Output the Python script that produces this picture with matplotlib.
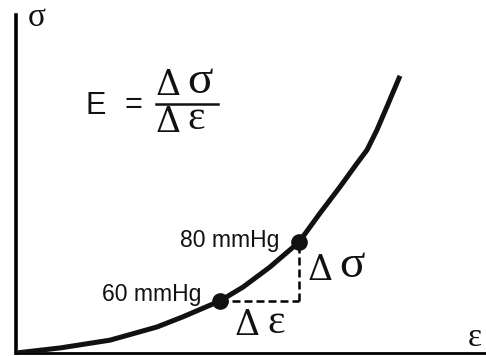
import matplotlib
matplotlib.use("Agg")
import numpy as np
from matplotlib import pyplot as plt

# stress-strain curve (arbitrary units)
strain = [0.0, 0.094, 0.200, 0.300, 0.355, 0.434, 0.483, 0.540, 0.602,
          0.647, 0.689, 0.726, 0.747, 0.768, 0.789, 0.817]
stress = [0.0, 0.015, 0.038, 0.077, 0.107, 0.154, 0.195, 0.254, 0.328,
          0.414, 0.491, 0.562, 0.601, 0.660, 0.728, 0.820]

# the two marked pressures
pt_strain = [0.434, 0.602]
pt_stress = [0.154, 0.328]
pt_labels = ['60 mmHg', '80 mmHg']

W, H = 486, 356
fig = plt.figure(figsize=(W / 100, H / 100), dpi=100)
ax = fig.add_axes([16 / W, 3 / H, 470 / W, 338 / H])
ax.set_xlim(0, 1)
ax.set_ylim(0, 1)
ax.set_xticks([])
ax.set_yticks([])
for s in ['top', 'right']:
    ax.spines[s].set_visible(False)
ax.spines['left'].set_linewidth(2.6)
ax.spines['bottom'].set_linewidth(2.0)
ax.patch.set_alpha(0)

ax.plot(strain, stress, color='#111111', lw=3.6, solid_capstyle='butt',
        solid_joinstyle='round', zorder=3)
ax.plot(pt_strain, pt_stress, 'o', color='#111111', ms=11, zorder=4)

# dashed triangle
ax.plot([pt_strain[0], pt_strain[1]], [pt_stress[0], pt_stress[0]], color='black', lw=1.8, dashes=(3.2, 1.6))
ax.plot([pt_strain[1], pt_strain[1]], [pt_stress[0], pt_stress[1]], color='black', lw=1.8, dashes=(3.2, 1.6))

sans = 'Liberation Sans'
serif = 'Liberation Serif'
delta_font = 'DejaVu Serif'


def txt(x, y, s, size, family, ha='center', va='center'):
    # place text by pixel position in the figure
    fig.text(x / W, 1 - y / H, s, fontsize=size, family=family, ha=ha, va=va,
             color='#111111')


# point labels
txt(279, 240, pt_labels[1], 16.5, sans, ha='right')
txt(201, 295, pt_labels[0], 16.5, sans, ha='right')

# axis labels
txt(37, 18, 'σ', 24, serif)
txt(475, 338, 'ε', 24, serif)

# modulus formula
txt(96, 106, 'E', 22, sans)
txt(133, 105, '=', 22, sans)
txt(168, 85, 'Δ', 25, delta_font)
txt(200, 82, 'σ', 34, serif)
fig.add_artist(plt.Line2D([156 / W, 218 / W], [1 - 104 / H, 1 - 104 / H], color='#111111', lw=1.8))
txt(168, 122, 'Δ', 25, delta_font)
txt(196, 119, 'ε', 30, serif)

# delta labels at the triangle
txt(320, 270, 'Δ', 25, delta_font)
txt(352, 266, 'σ', 34, serif)
txt(247, 325, 'Δ', 25, delta_font)
txt(276, 323, 'ε', 30, serif)

fig.savefig('out.png', dpi=100)
